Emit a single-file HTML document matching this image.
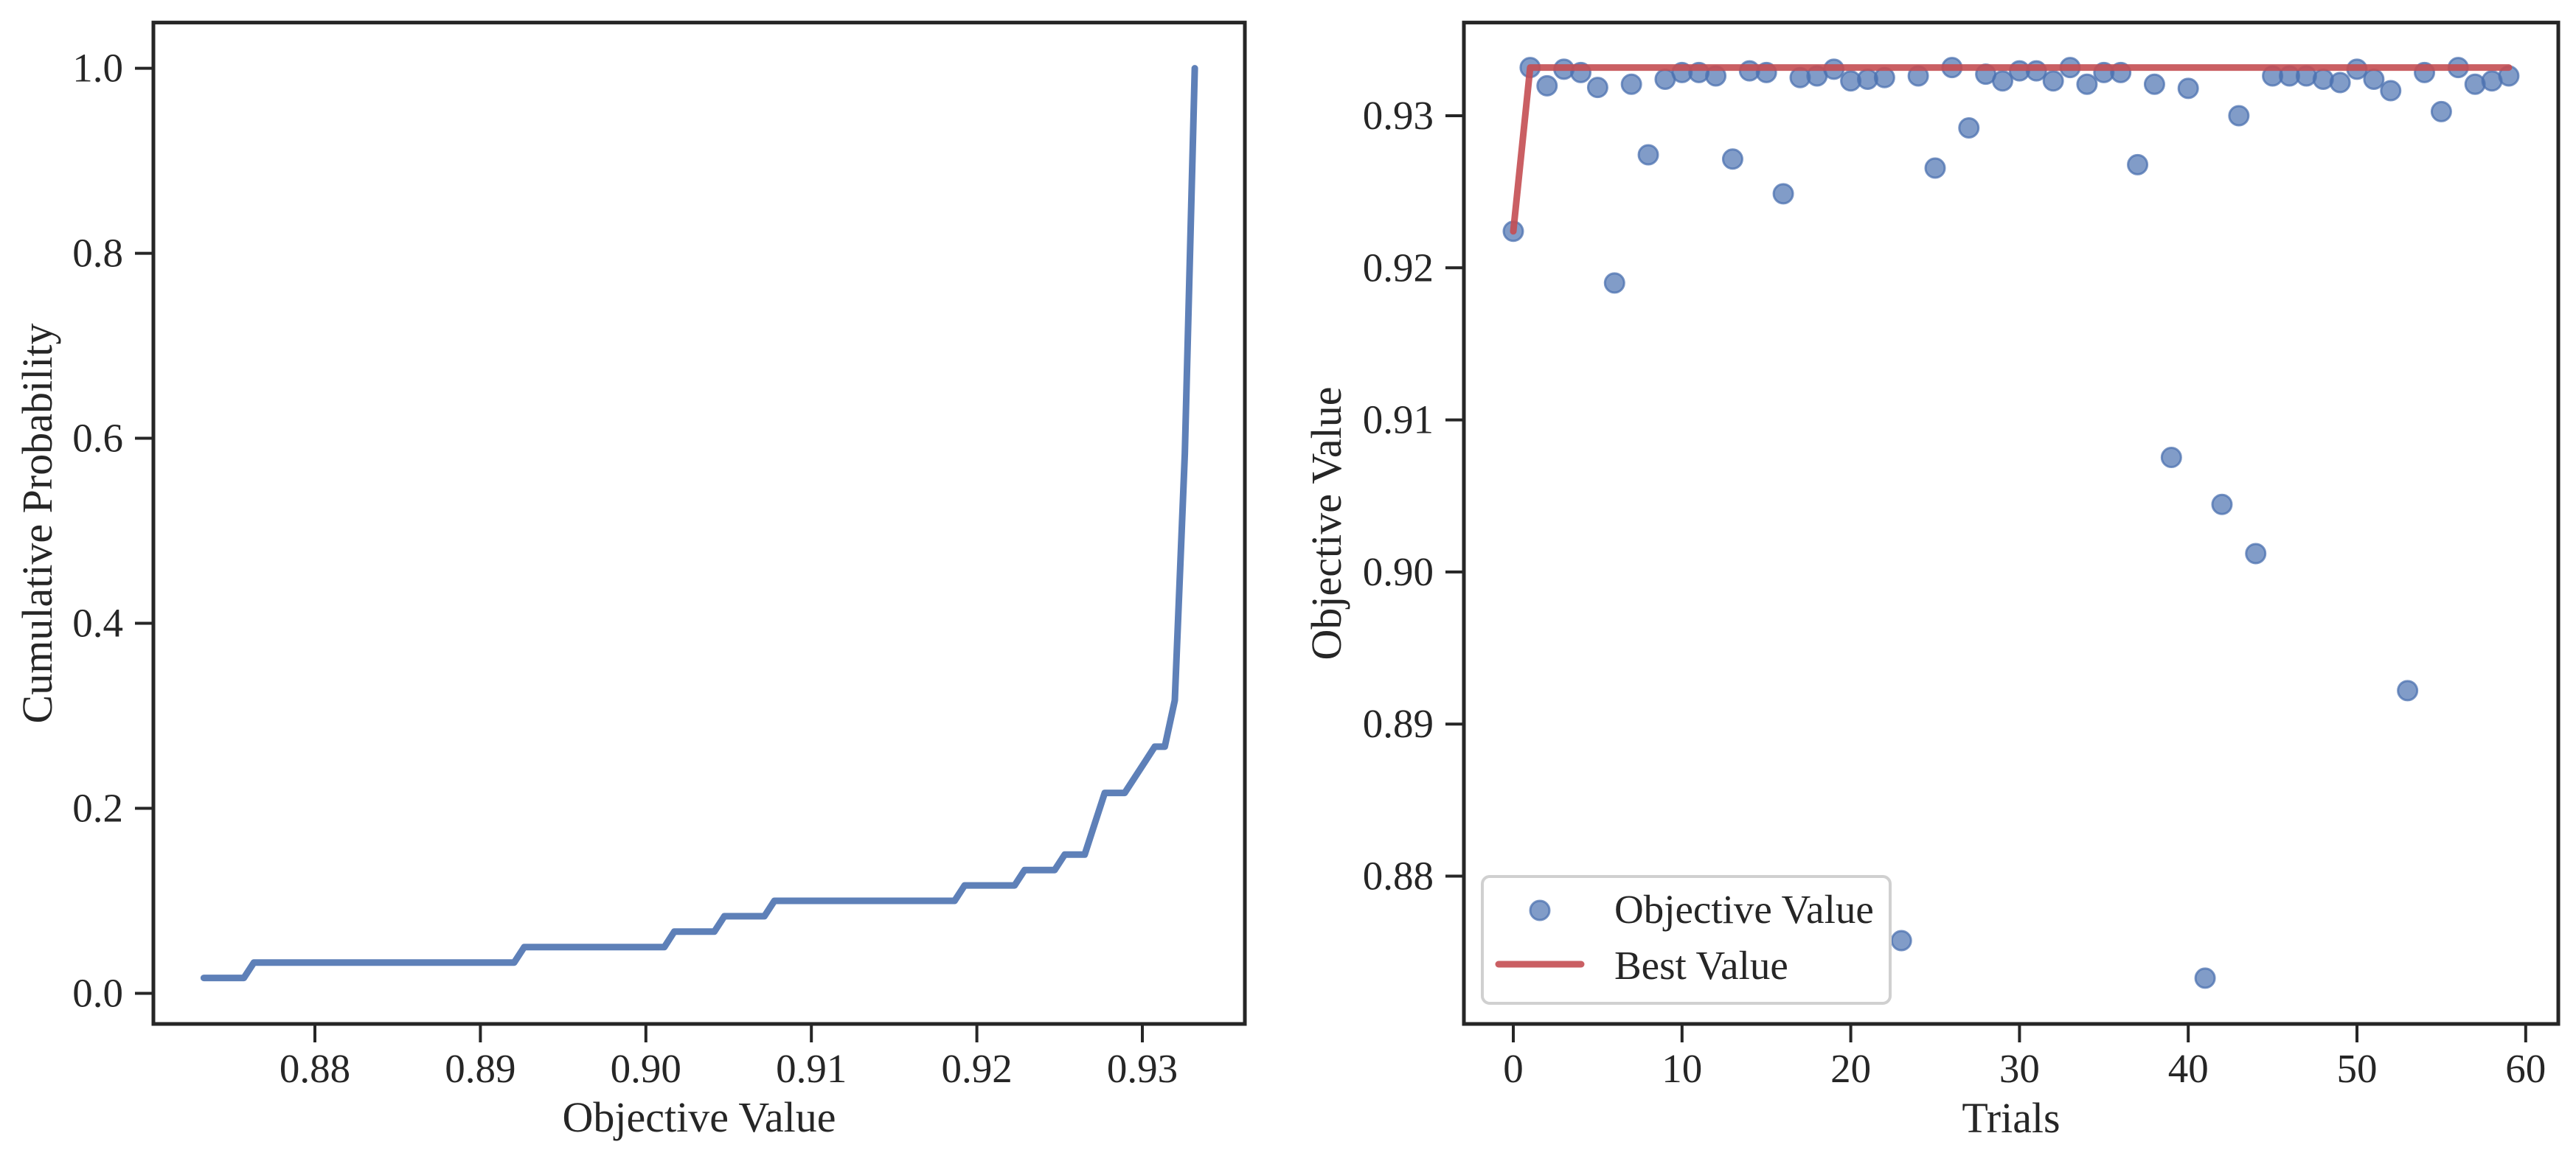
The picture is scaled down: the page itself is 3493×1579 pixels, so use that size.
<!DOCTYPE html>
<html><head><meta charset="utf-8"><style>
html,body{margin:0;padding:0;background:#fff}
svg{display:block}
text{font-family:"Liberation Serif","DejaVu Serif",serif;fill:#262626}
</style></head><body>
<svg id="fig" width="3493" height="1579" viewBox="0 0 3493 1579" xmlns="http://www.w3.org/2000/svg">
<g id="left"></g>
<g id="right"></g>
</svg>
<script>
const trials = [0,1,2,3,4,5,6,7,8,9,10,11,12,13,14,15,16,17,18,19,20,21,22,23,24,25,26,27,28,29,30,31,32,33,34,35,36,37,38,39,40,41,42,43,44,45,46,47,48,49,50,51,52,53,54,55,56,57,58,59];
const objectiveValues = [0.9224,0.93317,0.93197,0.93306,0.93284,0.93186,0.9190,0.93207,0.92743,0.9324,0.93284,0.93284,0.93262,0.92715,0.93295,0.93284,0.92487,0.93251,0.93262,0.93306,0.93229,0.9324,0.93251,0.87576,0.93262,0.92656,0.93317,0.9292,0.93273,0.93229,0.93295,0.93295,0.93229,0.93317,0.93207,0.93284,0.93284,0.92678,0.93207,0.90753,0.9318,0.87329,0.90444,0.9300,0.90121,0.93262,0.93262,0.93262,0.9324,0.93218,0.93306,0.9324,0.93165,0.8922,0.93284,0.93027,0.93317,0.93207,0.93229,0.93262];
const leftXTicks = [0.88,0.89,0.90,0.91,0.92,0.93];
const leftXTickLabels = ["0.88","0.89","0.90","0.91","0.92","0.93"];
const leftYTicks = [0,0.2,0.4,0.6,0.8,1.0];
const leftYTickLabels = ["0.0","0.2","0.4","0.6","0.8","1.0"];
const rightXTicks = [0,10,20,30,40,50,60];
const rightXTickLabels = ["0","10","20","30","40","50","60"];
const rightYTicks = [0.88,0.89,0.90,0.91,0.92,0.93];
const rightYTickLabels = ["0.88","0.89","0.90","0.91","0.92","0.93"];
const gridCount = 100;

const NS="http://www.w3.org/2000/svg";
function mk(parent,tag,attrs,txt){const e=document.createElementNS(NS,tag);for(const k in attrs)e.setAttribute(k,attrs[k]);if(txt!==undefined)e.textContent=txt;parent.appendChild(e);return e;}

const L={x0:208,x1:1688,y0:30.6,y1:1389};
const lx=v=>427+(v-0.88)*22440;
const ly=p=>1347.5-p*(1347.5-92.6);
const R={x0:1985,x1:3469,y0:30.6,y1:1389};
const rx=t=>2052+t*22.88;
const ry=v=>157+(0.93-v)*20630;

function frame(g,b,name){
  const r=mk(g,'rect',{x:b.x0,y:b.y0,width:b.x1-b.x0,height:b.y1-b.y0,fill:'none',stroke:'#262626','stroke-width':5});
  
  
}
function xticks(g,b,ticks,labels,f,name){
  ticks.forEach((t,i)=>{
    const x=f(t);
    const l=mk(g,'line',{x1:x,x2:x,y1:b.y1,y2:b.y1+25,stroke:'#262626','stroke-width':4});
    
    
    const tx=mk(g,'text',{x:x,y:1468,'font-size':55,'text-anchor':'middle'},labels[i]);
    
    
  });
}
function yticks(g,b,ticks,labels,f,name){
  ticks.forEach((t,i)=>{
    const y=f(t);
    const l=mk(g,'line',{x1:b.x0-25,x2:b.x0,y1:y,y2:y,stroke:'#262626','stroke-width':4});
    
    
    const tx=mk(g,'text',{x:b.x0-41,y:y+18,'font-size':55,'text-anchor':'end'},labels[i]);
    
    
  });
}

// LEFT: ECDF evaluated on an even grid
const gl=document.getElementById('left');
const vmin=Math.min(...objectiveValues), vmax=Math.max(...objectiveValues);
const n=objectiveValues.length;
const ptsArr=[];
for(let k=0;k<gridCount;k++){
  const xv=vmin+(vmax-vmin)*k/(gridCount-1);
  const p=objectiveValues.filter(v=>v<=xv+1e-12).length/n;
  ptsArr.push(lx(xv).toFixed(1)+','+ly(p).toFixed(1));
}
const ecdf=mk(gl,'polyline',{points:ptsArr.join(' '),fill:'none',stroke:'#4c72b0','stroke-opacity':0.9,'stroke-width':9,'stroke-linejoin':'round','stroke-linecap':'round'});


frame(gl,L,'left-plot-frame');
xticks(gl,L,leftXTicks,leftXTickLabels,lx,'left-x-axis');
yticks(gl,L,leftYTicks,leftYTickLabels,ly,'left-y-axis');
const lxl=mk(gl,'text',{x:948,y:1535,'font-size':58,'text-anchor':'middle'},'Objective Value');


const lyl=mk(gl,'text',{x:0,y:0,'font-size':58,'text-anchor':'middle',transform:'translate(70,710) rotate(-90)'},'Cumulative Probability');



// RIGHT: scatter + best
const gr=document.getElementById('right');
objectiveValues.forEach((v,i)=>{
  const c=mk(gr,'circle',{cx:rx(trials[i]),cy:ry(v),r:13,fill:'#4c72b0','fill-opacity':0.7,stroke:'#4c72b0','stroke-opacity':0.75,'stroke-width':3});
  
  
});
let best=-Infinity;
const bpts=objectiveValues.map((v,i)=>{best=Math.max(best,v);return rx(trials[i]).toFixed(1)+','+ry(best).toFixed(1);}).join(' ');
const bl=mk(gr,'polyline',{points:bpts,fill:'none',stroke:'#c44e52','stroke-opacity':0.9,'stroke-width':9,'stroke-linejoin':'round','stroke-linecap':'round'});


frame(gr,R,'right-plot-frame');
xticks(gr,R,rightXTicks,rightXTickLabels,rx,'right-x-axis');
yticks(gr,R,rightYTicks,rightYTickLabels,ry,'right-y-axis');
const rxl=mk(gr,'text',{x:2727,y:1536,'font-size':58,'text-anchor':'middle'},'Trials');


const ryl=mk(gr,'text',{x:0,y:0,'font-size':58,'text-anchor':'middle',transform:'translate(1818,710) rotate(-90)'},'Objective Value');



// legend
const lg=mk(gr,'g',{});


const lb=mk(lg,'rect',{x:2010,y:1189,width:553,height:172,rx:10,fill:'#fff','fill-opacity':0.8,stroke:'#d0d0d0','stroke-width':4});


const lm=mk(lg,'circle',{cx:2088,cy:1235,r:13,fill:'#4c72b0','fill-opacity':0.7,stroke:'#4c72b0','stroke-opacity':0.75,'stroke-width':3});


const lt1=mk(lg,'text',{x:2189,y:1252,'font-size':55},'Objective Value');


const ll=mk(lg,'line',{x1:2032,x2:2144,y1:1308,y2:1308,stroke:'#c44e52','stroke-opacity':0.9,'stroke-width':9,'stroke-linecap':'round'});


const lt2=mk(lg,'text',{x:2189,y:1328,'font-size':55},'Best Value');


</script>
</body></html>
